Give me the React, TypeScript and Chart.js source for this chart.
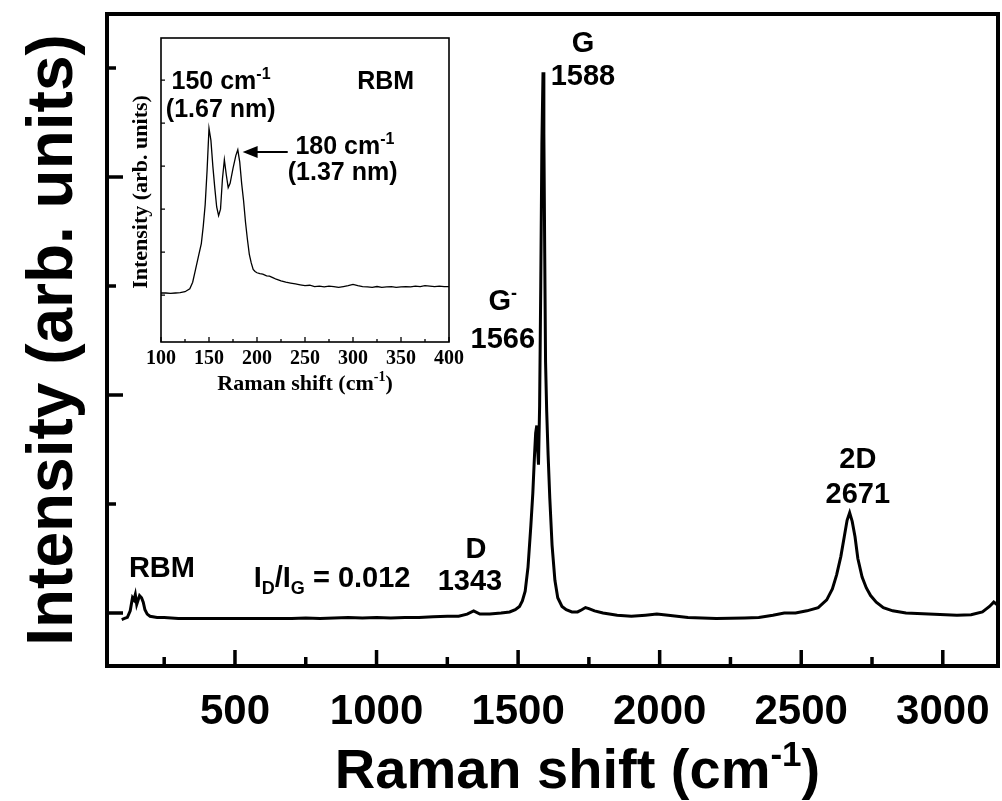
import { useEffect, useRef } from "react";
import { Chart, registerables } from "chart.js";

Chart.register(...registerables);

const SANS = '"Liberation Sans", Arial, sans-serif';
const SERIF = '"Liberation Serif", "Times New Roman", serif';

// ---- Main Raman spectrum (shift in cm^-1, intensity in arb. units) ----
const mainShift = [
  100, 110, 120, 130, 138, 143, 148, 153, 158, 163, 170, 176, 182, 190, 200, 225, 250,
  300, 350, 400, 450, 500, 550, 600, 650, 700, 750, 800, 850, 900, 950, 1000, 1050,
  1100, 1150, 1200, 1250, 1290, 1320, 1343, 1365, 1400, 1440, 1470, 1490, 1505, 1515,
  1525, 1535, 1545, 1552, 1558, 1562, 1566, 1569, 1572, 1576, 1580, 1584, 1588, 1591,
  1594, 1597, 1601, 1606, 1612, 1620, 1630, 1640, 1655, 1670, 1690, 1710, 1725, 1738,
  1750, 1770, 1800, 1850, 1900, 1950, 1990, 2030, 2100, 2200, 2300, 2350, 2400, 2440,
  2480, 2520, 2560, 2590, 2610, 2625, 2640, 2652, 2662, 2671, 2680, 2690, 2700, 2715,
  2730, 2745, 2765, 2790, 2823, 2870, 2950, 3050, 3100, 3140, 3165, 3180, 3190, 3195,
];
const mainIntensity = [
  -0.06, -0.05, -0.04, 0.02, 0.14, 0.12, 0.17, 0.08, 0.12, 0.16, 0.14, 0.1, 0.03, -0.01, -0.03, -0.04, -0.04,
  -0.05, -0.05, -0.05, -0.05, -0.05, -0.05, -0.05, -0.05, -0.05, -0.045, -0.05, -0.045, -0.04, -0.045, -0.04, -0.045,
  -0.04, -0.04, -0.035, -0.03, -0.03, -0.01, 0.02, -0.01, -0.01, 0.0, 0.01, 0.03, 0.06, 0.11,
  0.2, 0.42, 0.8, 1.1, 1.45, 1.65, 1.72, 1.5, 1.36, 1.9, 3.0, 4.3, 4.96, 4.4,
  3.3, 2.3, 1.85, 1.45, 1.05, 0.62, 0.3, 0.14, 0.06, 0.03, 0.01, 0.01, 0.03, 0.05,
  0.04, 0.02, 0.0, -0.02, -0.03, -0.02, -0.01, -0.02, -0.04, -0.05, -0.045, -0.04, -0.02, 0.0,
  0.0, 0.02, 0.05, 0.12, 0.22, 0.35, 0.52, 0.7, 0.85, 0.92, 0.84, 0.7, 0.5, 0.33,
  0.23, 0.16, 0.1, 0.05, 0.02, 0.0, -0.01, -0.02, -0.015, 0.01, 0.06, 0.1, 0.08, 0.07,
];

const mainXMajorTicks = [500, 1000, 1500, 2000, 2500, 3000];
const mainXMinorTicks = [250, 750, 1250, 1750, 2250, 2750];
const mainYMajorTicks = [0, 2, 4];
const mainYMinorTicks = [1, 3, 5];

// ---- Inset: RBM region ----
const insetShift = [
  100, 105, 110, 115, 120, 125, 130, 133, 136, 139, 142, 144, 146, 148, 150, 152, 154,
  156, 158, 160, 162, 164, 166, 168, 170, 172, 175, 178, 180, 182, 184, 186, 188, 190,
  192, 194, 196, 198, 200, 203, 206, 210, 213, 217, 220, 225, 230, 235, 240, 245, 250,
  255, 260, 265, 270, 275, 280, 285, 290, 295, 300, 305, 310, 315, 320, 325, 330, 335,
  340, 345, 350, 355, 360, 365, 370, 375, 380, 385, 390, 395, 400,
];
const insetIntensity = [
  0.05, 0.05, 0.04, 0.05, 0.06, 0.08, 0.15, 0.3, 0.6, 0.9, 1.2, 1.6, 2.1, 2.9, 3.88, 3.6, 3.0,
  2.5, 2.05, 1.85, 2.0, 2.7, 3.15, 2.8, 2.5, 2.6, 2.95, 3.25, 3.38, 3.1, 2.6, 2.2, 1.7, 1.3,
  0.95, 0.75, 0.6, 0.55, 0.52, 0.5, 0.49, 0.45, 0.44, 0.4, 0.37, 0.33, 0.3, 0.28, 0.26, 0.24, 0.22,
  0.23, 0.2, 0.21, 0.19, 0.21, 0.2, 0.18, 0.2, 0.22, 0.25, 0.22, 0.2, 0.19, 0.18, 0.2, 0.18, 0.19,
  0.2, 0.18, 0.19, 0.2, 0.19, 0.21, 0.2, 0.22, 0.21, 0.2, 0.21, 0.2, 0.2,
];

const insetXMajorTicks = [100, 150, 200, 250, 300, 350, 400];
const insetXMinorTicks = [125, 175, 225, 275, 325, 375];
const insetYTicks = [0, 1, 2, 3, 4, 5];

type Run = { text: string; shift?: "sup" | "sub" };

// Peak labels of the main spectrum, anchored in data coordinates
const mainLabels: { runs: Run[]; x: number; y: number; align: "left" | "center" }[] = [
  { runs: [{ text: "G" }], x: 1729, y: 5.24, align: "center" },
  { runs: [{ text: "1588" }], x: 1729, y: 4.94, align: "center" },
  { runs: [{ text: "G" }, { text: "-", shift: "sup" }], x: 1446, y: 2.87, align: "center" },
  { runs: [{ text: "1566" }], x: 1446, y: 2.52, align: "center" },
  { runs: [{ text: "D" }], x: 1351, y: 0.6, align: "center" },
  { runs: [{ text: "1343" }], x: 1330, y: 0.3, align: "center" },
  { runs: [{ text: "2D" }], x: 2700, y: 1.42, align: "center" },
  { runs: [{ text: "2671" }], x: 2700, y: 1.1, align: "center" },
  { runs: [{ text: "RBM" }], x: 242, y: 0.42, align: "center" },
  {
    runs: [
      { text: "I" },
      { text: "D", shift: "sub" },
      { text: "/I" },
      { text: "G", shift: "sub" },
      { text: " = 0.012" },
    ],
    x: 566,
    y: 0.33,
    align: "left",
  },
];

// Inset labels, anchored in inset data coordinates
const insetLabels: { runs: Run[]; x: number; y: number; align: "left" | "center" }[] = [
  { runs: [{ text: "150 cm" }, { text: "-1", shift: "sup" }], x: 111, y: 5.0, align: "left" },
  { runs: [{ text: "(1.67 nm)" }], x: 105, y: 4.35, align: "left" },
  { runs: [{ text: "RBM" }], x: 334, y: 5.0, align: "center" },
  { runs: [{ text: "180 cm" }, { text: "-1", shift: "sup" }], x: 240, y: 3.5, align: "left" },
  { runs: [{ text: "(1.37 nm)" }], x: 232, y: 2.88, align: "left" },
];

function drawRich(
  ctx: CanvasRenderingContext2D,
  runs: Run[],
  x: number,
  y: number,
  size: number,
  family: string,
  align: "left" | "center"
) {
  const fontFor = (r: Run) =>
    `bold ${r.shift ? Math.round(size * 0.62) : size}px ${family}`;
  let total = 0;
  const widths = runs.map((r) => {
    ctx.font = fontFor(r);
    const w = ctx.measureText(r.text).width;
    total += w;
    return w;
  });
  let cx = align === "center" ? x - total / 2 : x;
  ctx.textAlign = "left";
  ctx.textBaseline = "alphabetic";
  runs.forEach((r, i) => {
    ctx.font = fontFor(r);
    const dy = r.shift === "sup" ? -size * 0.4 : r.shift === "sub" ? size * 0.25 : 0;
    ctx.fillText(r.text, cx, y + dy);
    cx += widths[i];
  });
}

function drawTicks(
  ctx: CanvasRenderingContext2D,
  chart: any,
  axis: "x" | "y",
  values: number[],
  len: number,
  width: number
) {
  const a = chart.chartArea;
  const scale = chart.scales[axis];
  ctx.lineWidth = width;
  ctx.strokeStyle = "#000";
  ctx.lineCap = "butt";
  ctx.beginPath();
  values.forEach((v) => {
    const p = scale.getPixelForValue(v);
    if (axis === "x") {
      ctx.moveTo(p, a.bottom);
      ctx.lineTo(p, a.bottom - len);
    } else {
      ctx.moveTo(a.left, p);
      ctx.lineTo(a.left + len, p);
    }
  });
  ctx.stroke();
}

const mainDecor = {
  id: "mainDecor",
  afterDraw(chart: any) {
    const ctx: CanvasRenderingContext2D = chart.ctx;
    const a = chart.chartArea;
    const xs = chart.scales.x;
    const ys = chart.scales.y;
    ctx.save();
    ctx.fillStyle = "#000";
    ctx.strokeStyle = "#000";
    ctx.lineWidth = 4;
    ctx.strokeRect(a.left, a.top, a.right - a.left, a.bottom - a.top);

    drawTicks(ctx, chart, "x", mainXMajorTicks, 16, 3.5);
    drawTicks(ctx, chart, "x", mainXMinorTicks, 9, 3.5);
    drawTicks(ctx, chart, "y", mainYMajorTicks, 16, 3.5);
    drawTicks(ctx, chart, "y", mainYMinorTicks, 9, 3.5);

    // x tick labels
    ctx.font = `bold 42px ${SANS}`;
    ctx.textAlign = "center";
    ctx.textBaseline = "alphabetic";
    mainXMajorTicks.forEach((v) => {
      ctx.fillText(String(v), xs.getPixelForValue(v), a.bottom + 58);
    });

    // axis titles
    drawRich(
      ctx,
      [{ text: "Raman shift (cm" }, { text: "-1", shift: "sup" }, { text: ")" }],
      (a.left + a.right) / 2 + 25,
      a.bottom + 122,
      56,
      SANS,
      "center"
    );
    ctx.save();
    ctx.translate(49, (a.top + a.bottom) / 2);
    ctx.rotate(-Math.PI / 2);
    drawRich(ctx, [{ text: "Intensity (arb. units)" }], 0, 23, 64, SANS, "center");
    ctx.restore();

    // peak labels
    mainLabels.forEach((l) => {
      drawRich(
        ctx,
        l.runs,
        xs.getPixelForValue(l.x),
        ys.getPixelForValue(l.y) + 10,
        29,
        SANS,
        l.align
      );
    });
    ctx.restore();
  },
};

const insetDecor = {
  id: "insetDecor",
  afterDraw(chart: any) {
    const ctx: CanvasRenderingContext2D = chart.ctx;
    const a = chart.chartArea;
    const xs = chart.scales.x;
    const ys = chart.scales.y;
    ctx.save();
    ctx.fillStyle = "#000";
    ctx.strokeStyle = "#000";
    ctx.lineWidth = 1.6;
    ctx.strokeRect(a.left, a.top, a.right - a.left, a.bottom - a.top);

    drawTicks(ctx, chart, "x", insetXMajorTicks, 5, 1.3);
    drawTicks(ctx, chart, "x", insetXMinorTicks, 3, 1.3);
    drawTicks(ctx, chart, "y", insetYTicks, 4, 1.3);

    ctx.font = `bold 20px ${SERIF}`;
    ctx.textAlign = "center";
    ctx.textBaseline = "alphabetic";
    insetXMajorTicks.forEach((v) => {
      ctx.fillText(String(v), xs.getPixelForValue(v), a.bottom + 22);
    });

    drawRich(
      ctx,
      [{ text: "Raman shift (cm" }, { text: "-1", shift: "sup" }, { text: ")" }],
      (a.left + a.right) / 2,
      a.bottom + 48,
      22,
      SERIF,
      "center"
    );
    ctx.save();
    ctx.translate(a.left - 21, (a.top + a.bottom) / 2 + 2);
    ctx.rotate(-Math.PI / 2);
    drawRich(ctx, [{ text: "Intensity (arb. units)" }], 0, 7, 22, SERIF, "center");
    ctx.restore();

    insetLabels.forEach((l) => {
      drawRich(
        ctx,
        l.runs,
        xs.getPixelForValue(l.x),
        ys.getPixelForValue(l.y) + 9,
        25,
        SANS,
        l.align
      );
    });

    // arrow pointing at the 180 cm^-1 peak
    const ay = ys.getPixelForValue(3.33);
    const tip = xs.getPixelForValue(185);
    const tail = xs.getPixelForValue(232);
    ctx.lineWidth = 2;
    ctx.beginPath();
    ctx.moveTo(tail, ay);
    ctx.lineTo(tip + 12, ay);
    ctx.stroke();
    ctx.beginPath();
    ctx.moveTo(tip, ay);
    ctx.lineTo(tip + 15, ay - 6);
    ctx.lineTo(tip + 15, ay + 6);
    ctx.closePath();
    ctx.fill();
    ctx.restore();
  },
};

export default function App() {
  const mainRef = useRef<HTMLCanvasElement>(null);
  const insetRef = useRef<HTMLCanvasElement>(null);

  useEffect(() => {
    const main = new Chart(mainRef.current!, {
      type: "line",
      data: {
        datasets: [
          {
            data: mainShift.map((x, i) => ({ x, y: mainIntensity[i] })),
            borderColor: "#000",
            borderWidth: 3,
            pointRadius: 0,
            tension: 0,
            fill: false,
          },
        ],
      },
      options: {
        responsive: false,
        animation: false,
        devicePixelRatio: 1,
        events: [],
        layout: { padding: { left: 107, right: 4, top: 14, bottom: 135 } },
        plugins: { legend: { display: false }, tooltip: { enabled: false } },
        scales: {
          x: { type: "linear", min: 48, max: 3195, display: false },
          y: { type: "linear", min: -0.486, max: 5.495, display: false },
        },
      },
      plugins: [mainDecor],
    });

    const inset = new Chart(insetRef.current!, {
      type: "line",
      data: {
        datasets: [
          {
            data: insetShift.map((x, i) => ({ x, y: insetIntensity[i] })),
            borderColor: "#000",
            borderWidth: 1.3,
            pointRadius: 0,
            tension: 0,
            fill: false,
          },
        ],
      },
      options: {
        responsive: false,
        animation: false,
        devicePixelRatio: 1,
        events: [],
        layout: { padding: { left: 41, right: 16, top: 8, bottom: 68 } },
        plugins: { legend: { display: false }, tooltip: { enabled: false } },
        scales: {
          x: { type: "linear", min: 100, max: 400, display: false },
          y: { type: "linear", min: -1.09, max: 5.98, display: false },
        },
      },
      plugins: [insetDecor],
    });

    return () => {
      main.destroy();
      inset.destroy();
    };
  }, []);

  return (
    <div style={{ position: "absolute", left: 0, top: 0, width: 1002, height: 801, background: "#fff" }}>
      <canvas
        ref={mainRef}
        width={1002}
        height={801}
        style={{ position: "absolute", left: 0, top: 0, width: 1002, height: 801 }}
      />
      <canvas
        ref={insetRef}
        width={345}
        height={380}
        style={{ position: "absolute", left: 120, top: 30, width: 345, height: 380 }}
      />
    </div>
  );
}
